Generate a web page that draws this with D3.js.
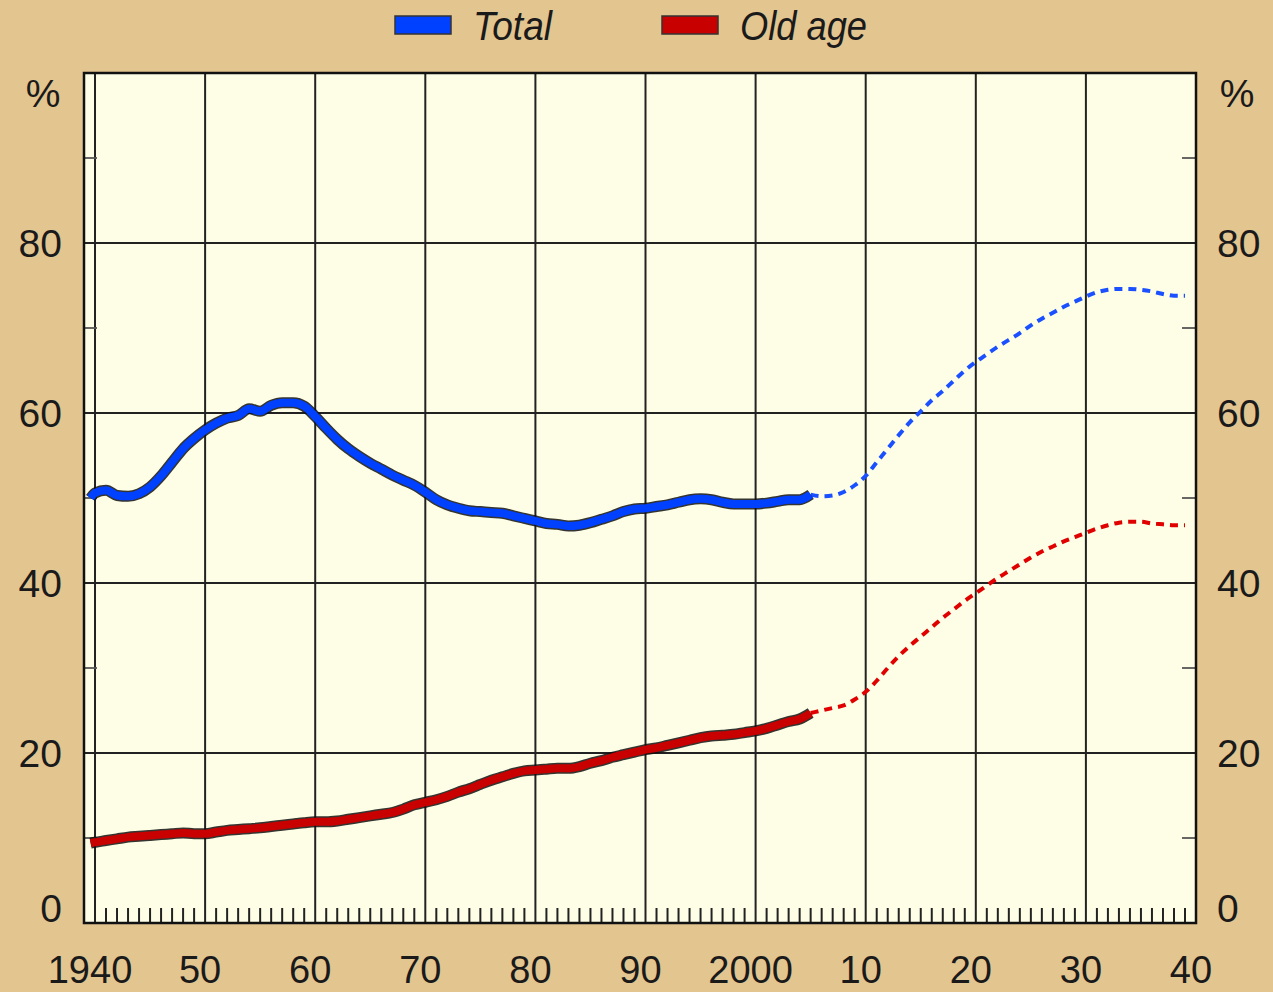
<!DOCTYPE html>
<html>
<head>
<meta charset="utf-8">
<script src="https://cdn.jsdelivr.net/npm/d3@7"></script>
<style>
  html, body { margin: 0; padding: 0; background: #E3C590; }
  svg { display: block; }
  text { font-family: "Liberation Sans", Arial, sans-serif; fill: #1a1a1a; }
</style>
</head>
<body>
<svg id="chart" width="1273" height="992"></svg>
<script>
// ---------- DATA ----------
const histYears = [1939.6].concat(d3.range(1940, 2006));
const totalHist = [50.0,50.6,50.9,50.3,50.2,50.5,51.3,52.6,54.2,55.8,57.0,
  58.0,58.8,59.4,59.7,60.5,60.2,60.9,61.2,61.2,60.8,
  59.6,58.2,56.9,55.8,54.9,54.1,53.4,52.7,52.1,51.5,
  50.7,49.8,49.2,48.8,48.5,48.4,48.3,48.2,47.9,47.6,
  47.3,47.0,46.9,46.7,46.8,47.1,47.5,47.9,48.4,48.7,
  48.8,49.0,49.2,49.5,49.8,49.9,49.8,49.5,49.3,49.3,
  49.3,49.4,49.6,49.8,49.8,50.4];
const oldHist = [9.4,9.5,9.7,9.9,10.1,10.2,10.3,10.4,10.5,10.6,10.5,
  10.5,10.7,10.9,11.0,11.1,11.2,11.35,11.5,11.65,11.8,
  11.9,11.9,12.0,12.2,12.4,12.6,12.8,13.0,13.4,13.9,
  14.2,14.5,14.9,15.4,15.8,16.3,16.8,17.2,17.6,17.9,
  18.0,18.1,18.2,18.2,18.4,18.8,19.1,19.5,19.8,20.1,
  20.4,20.6,20.9,21.2,21.5,21.8,22.0,22.1,22.2,22.4,
  22.6,22.9,23.3,23.7,24.0,24.7];

const projYears = d3.range(2005, 2040);
const totalProj = [50.4,50.2,50.3,50.7,51.5,52.6,54.2,55.8,57.4,58.9,
  60.2,61.5,62.6,63.8,65.0,66.0,66.9,67.8,68.6,69.4,
  70.3,71.1,71.8,72.5,73.1,73.7,74.2,74.5,74.6,74.6,
  74.5,74.3,74.0,73.8,73.8];
const oldProj = [24.7,25.0,25.3,25.6,26.3,27.2,28.5,30.0,31.4,32.6,
  33.7,34.8,35.9,36.9,37.9,38.8,39.7,40.6,41.4,42.2,
  43.0,43.7,44.3,44.9,45.4,45.9,46.4,46.8,47.1,47.2,
  47.2,47.0,46.9,46.8,46.8];

const xTickYears = [1940,1950,1960,1970,1980,1990,2000,2010,2020,2030,2040];
const xTickLabels = ["1940","50","60","70","80","90","2000","10","20","30","40"];
const yMajor = [0,20,40,60,80];
const yMinor = [10,30,50,70,90];
const seriesNames = ["Total","Old age"];
const seriesColors = ["#0040ff","#c80000"];
const projColors = ["#1a50ff","#e00000"];

// ---------- SCALES ----------
const svg = d3.select("#chart");
const x = d3.scaleLinear().domain([1939, 2040]).range([84, 1196]);
const y = d3.scaleLinear().domain([0, 100]).range([923, 73]);

// plot background
svg.append("rect")
  .attr("x", x(1939)).attr("y", y(100))
  .attr("width", x(2040) - x(1939)).attr("height", y(0) - y(100))
  .attr("fill", "#FEFEE6");

// vertical grid
svg.append("g").selectAll("line")
  .data(xTickYears.filter(d => d < 2040))
  .join("line")
  .attr("x1", d => x(d)).attr("x2", d => x(d))
  .attr("y1", y(100)).attr("y2", y(0))
  .attr("stroke", "#222").attr("stroke-width", 2);

// horizontal grid
svg.append("g").selectAll("line")
  .data(yMajor.filter(d => d > 0))
  .join("line")
  .attr("x1", x(1939)).attr("x2", x(2040))
  .attr("y1", d => y(d)).attr("y2", d => y(d))
  .attr("stroke", "#222").attr("stroke-width", 2);

// yearly minor ticks at bottom
svg.append("g").selectAll("line")
  .data(d3.range(1941, 2040).filter(d => d % 10 !== 0))
  .join("line")
  .attr("x1", d => x(d)).attr("x2", d => x(d))
  .attr("y1", y(0)).attr("y2", y(0) - 15)
  .attr("stroke", "#222").attr("stroke-width", 2);

// y minor ticks both sides
const ym = svg.append("g");
ym.selectAll("line.l").data(yMinor).join("line").attr("class","l")
  .attr("x1", x(1939)).attr("x2", x(1939) + 13)
  .attr("y1", d => y(d)).attr("y2", d => y(d))
  .attr("stroke", "#555").attr("stroke-width", 1.8);
ym.selectAll("line.r").data(yMinor).join("line").attr("class","r")
  .attr("x1", x(2040) - 14).attr("x2", x(2040))
  .attr("y1", d => y(d)).attr("y2", d => y(d))
  .attr("stroke", "#555").attr("stroke-width", 1.8);

// frame
svg.append("rect")
  .attr("x", x(1939)).attr("y", y(100))
  .attr("width", x(2040) - x(1939)).attr("height", y(0) - y(100))
  .attr("fill", "none").attr("stroke", "#111").attr("stroke-width", 2.5);

// ---------- LINES ----------
const line = d3.line().x(d => x(d[0])).y(d => y(d[1])).curve(d3.curveMonotoneX);
const hist = [d3.zip(histYears, totalHist), d3.zip(histYears, oldHist)];
const proj = [d3.zip(projYears, totalProj), d3.zip(projYears, oldProj)];

proj.forEach((p, i) => {
  svg.append("path").datum(p).attr("d", line)
    .attr("fill", "none").attr("stroke", projColors[i])
    .attr("stroke-width", 4).attr("stroke-dasharray", "8,6");
});
hist.forEach((h, i) => {
  svg.append("path").datum(h).attr("d", line)
    .attr("fill", "none").attr("stroke", "#111").attr("stroke-opacity", 0.85)
    .attr("stroke-width", 11).attr("stroke-linejoin", "round");
  svg.append("path").datum(h).attr("d", line)
    .attr("fill", "none").attr("stroke", seriesColors[i])
    .attr("stroke-width", 8).attr("stroke-linejoin", "round");
});

// ---------- AXIS LABELS ----------
const fs = 39;
const labL = svg.append("g").attr("font-size", fs).attr("text-anchor", "end");
yMajor.forEach(v => {
  labL.append("text").attr("x", 62)
    .attr("y", v === 0 ? y(0) - 1 : y(v) + 14).text(v);
});
const labR = svg.append("g").attr("font-size", fs).attr("text-anchor", "start");
yMajor.forEach(v => {
  labR.append("text").attr("x", 1217)
    .attr("y", v === 0 ? y(0) - 1 : y(v) + 14).text(v);
});
svg.append("text").attr("x", 43).attr("y", 107).attr("font-size", fs)
  .attr("text-anchor", "middle").text("%");
svg.append("text").attr("x", 1237).attr("y", 107).attr("font-size", fs)
  .attr("text-anchor", "middle").text("%");

svg.append("g").attr("font-size", 38).attr("text-anchor", "middle")
  .selectAll("text").data(xTickYears).join("text")
  .attr("x", d => x(d) - 5).attr("y", 983)
  .text((d, i) => xTickLabels[i]);

// ---------- LEGEND ----------
const legX = [395, 662];
const legTextW = [79, 127];
seriesNames.forEach((n, i) => {
  svg.append("rect").attr("x", legX[i]).attr("y", 16)
    .attr("width", 56).attr("height", 18)
    .attr("fill", seriesColors[i]).attr("stroke", "#333").attr("stroke-width", 1.5);
  svg.append("text").attr("x", legX[i] + 78).attr("y", 40)
    .attr("font-size", 40).attr("font-style", "italic")
    .attr("textLength", legTextW[i]).attr("lengthAdjust", "spacingAndGlyphs")
    .text(n);
});
</script>
</body>
</html>
